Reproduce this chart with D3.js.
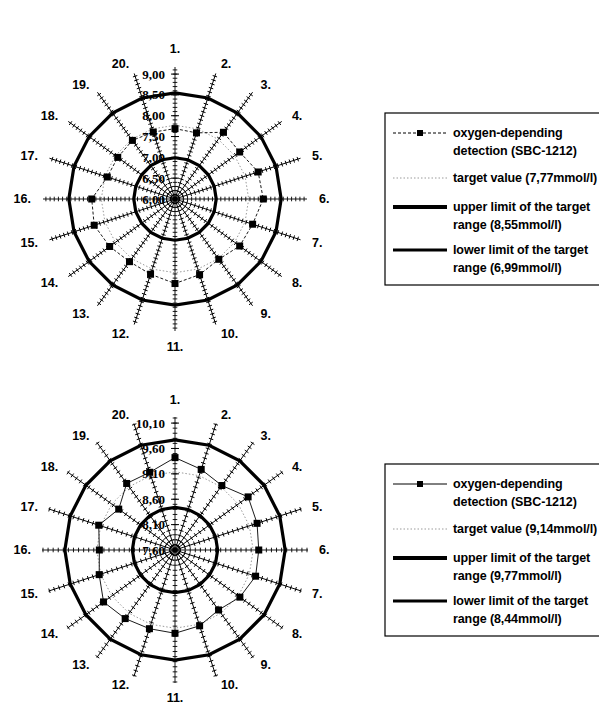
<!DOCTYPE html>
<html>
<head>
<meta charset="utf-8">
<script src="https://cdn.jsdelivr.net/npm/d3@7"></script>
<style>
  html, body { margin: 0; padding: 0; background: #fff; }
  svg { display: block; }
</style>
</head>
<body>
<svg id="chart" width="599" height="705"></svg>
<script>
// Measuring points around the sensor ring
const categories = ["1.","2.","3.","4.","5.","6.","7.","8.","9.","10.",
                    "11.","12.","13.","14.","15.","16.","17.","18.","19.","20."];

// Panel A: oxygen-depending detection (SBC-1212), mmol/l
const detectionA = [7.69, 7.67, 7.98, 7.92, 8.10, 8.12, 7.96, 7.92, 7.79, 7.91,
                    8.03, 7.90, 7.86, 7.94, 8.04, 8.00, 7.71, 7.70, 7.74, 7.69];
const targetA = 7.77;
const upperA = 8.55;
const lowerA = 6.99;
const tickLabelsA = ["6,00", "6,50", "7,00", "7,50", "8,00", "8,50", "9,00"];

// Panel B: oxygen-depending detection (SBC-1212), mmol/l
const detectionB = [9.42, 9.27, 9.17, 9.38, 9.30, 9.25, 9.27, 9.18, 9.06, 9.17,
                    9.24, 9.23, 9.27, 9.34, 9.17, 9.09, 9.18, 8.97, 9.22, 9.21];
const targetB = 9.14;
const upperB = 9.77;
const lowerB = 8.44;
const tickLabelsB = ["7,60", "8,10", "8,60", "9,10", "9,60", "10,10"];

const legendA = [
  ["oxygen-depending", "detection (SBC-1212)"],
  ["target value (7,77mmol/l)"],
  ["upper limit of the target", "range (8,55mmol/l)"],
  ["lower limit of the target", "range (6,99mmol/l)"]
];
const legendB = [
  ["oxygen-depending", "detection (SBC-1212)"],
  ["target value (9,14mmol/l)"],
  ["upper limit of the target", "range (9,77mmol/l)"],
  ["lower limit of the target", "range (8,44mmol/l)"]
];

const svg = d3.select("#chart");
const SANS = "Liberation Sans, Arial, Helvetica, sans-serif";
const SERIF = "Liberation Serif, Times New Roman, serif";

function num(s) { return +s.replace(",", "."); }

function drawRadar(cfg) {
  const g = svg.append("g").attr("transform", `translate(${cfg.cx},${cfg.cy})`);
  const r = d3.scaleLinear().domain(cfg.domain).range([0, cfg.rMax]);
  const angle = d3.scaleLinear().domain([0, categories.length]).range([0, 2 * Math.PI]);
  const pt = (i, v) => {
    const a = angle(i), rr = r(v);
    return [rr * Math.sin(a), -rr * Math.cos(a)];
  };
  const ring = v => categories.map((c, i) => pt(i, v));
  const closed = d3.line().curve(d3.curveLinearClosed);

  // radial axes with minor tick marks
  const minorTicks = d3.range(Math.round(cfg.domain[0] * 10), Math.floor(cfg.domain[1] * 10 + 1e-6) + 1)
    .map(d => d / 10);
  categories.forEach((c, i) => {
    const a = angle(i);
    const ax = g.append("g").attr("transform", `rotate(${a * 180 / Math.PI})`);
    ax.append("line")
      .attr("x1", 0).attr("y1", 0).attr("x2", 0).attr("y2", -cfg.rMax)
      .attr("stroke", "#000").attr("stroke-width", 0.9);
    ax.selectAll("line.tick").data(minorTicks).join("line")
      .attr("class", "tick")
      .attr("x1", -2.3).attr("x2", 2.3)
      .attr("y1", d => -r(d)).attr("y2", d => -r(d))
      .attr("stroke", "#000").attr("stroke-width", 0.9);
  });

  // major ticks on the value axis
  const majors = cfg.tickLabels.map(num);
  g.selectAll("line.major").data(majors).join("line")
    .attr("x1", -4).attr("x2", 4)
    .attr("y1", d => -r(d)).attr("y2", d => -r(d))
    .attr("stroke", "#000").attr("stroke-width", 1);

  // target value ring
  g.append("path").attr("d", closed(ring(cfg.target)))
    .attr("fill", "none").attr("stroke", "#9a9a9a").attr("stroke-width", 1)
    .attr("stroke-dasharray", "1.5,2");

  // limits of the target range
  g.append("path").attr("d", closed(ring(cfg.upper)))
    .attr("fill", "none").attr("stroke", "#000").attr("stroke-width", 3.2);
  g.append("path").attr("d", closed(ring(cfg.lower)))
    .attr("fill", "none").attr("stroke", "#000").attr("stroke-width", 3.2);

  // detection series
  const pts = cfg.values.map((v, i) => pt(i, v));
  g.append("path").attr("d", closed(pts))
    .attr("fill", "none").attr("stroke", "#000").attr("stroke-width", 0.9)
    .attr("stroke-dasharray", cfg.seriesDash);
  g.selectAll("rect.mk").data(pts).join("rect")
    .attr("x", d => d[0] - 3.5).attr("y", d => d[1] - 3.5)
    .attr("width", 7).attr("height", 7).attr("fill", "#000");

  // value axis labels
  g.selectAll("text.val").data(cfg.tickLabels).join("text")
    .attr("x", -10).attr("y", d => -r(num(d)))
    .attr("dy", "0.35em")
    .attr("text-anchor", "end")
    .attr("font-family", SERIF).attr("font-weight", "bold").attr("font-size", 13)
    .attr("fill", "#000")
    .text(d => d);

  // category labels, anchored outward from the end of each axis
  const labelR = 142;
  g.selectAll("text.cat").data(categories).join("text")
    .each(function (d, i) {
      const a = angle(i), s = Math.sin(a), c = Math.cos(a);
      let x = labelR * s, y = -labelR * c, anchor = "middle";
      if (s > 0.05) { anchor = "start"; x += 2; }
      else if (s < -0.05) { anchor = "end"; x -= 2; }
      else { y += c > 0 ? -8 : 6; }
      d3.select(this)
        .attr("x", x).attr("y", y).attr("dy", "0.35em")
        .attr("text-anchor", anchor);
    })
    .attr("font-family", SANS).attr("font-weight", "bold").attr("font-size", 12.5)
    .attr("fill", "#000")
    .text(d => d);
}

function drawLegend(x, y, rows, seriesDash) {
  const g = svg.append("g").attr("transform", `translate(${x},${y})`);
  g.append("rect").attr("x", 0).attr("y", 0).attr("width", 230).attr("height", 172)
    .attr("fill", "none").attr("stroke", "#000").attr("stroke-width", 1.2);
  const rowY = [20, 65, 94, 137];
  const lx1 = 8, lx2 = 62, tx = 68;
  const styles = [
    { stroke: "#000", w: 1, dash: seriesDash, marker: true },
    { stroke: "#9a9a9a", w: 1, dash: "1.5,2" },
    { stroke: "#000", w: 4, dash: null },
    { stroke: "#000", w: 3.2, dash: null }
  ];
  rows.forEach((lines, k) => {
    const s = styles[k];
    const yy = rowY[k];
    g.append("line").attr("x1", lx1).attr("x2", lx2).attr("y1", yy).attr("y2", yy)
      .attr("stroke", s.stroke).attr("stroke-width", s.w)
      .attr("stroke-dasharray", s.dash);
    if (s.marker) {
      g.append("rect").attr("x", (lx1 + lx2) / 2 - 3).attr("y", yy - 3)
        .attr("width", 6).attr("height", 6).attr("fill", "#000");
    }
    lines.forEach((t, j) => {
      g.append("text").attr("x", tx).attr("y", yy + j * 17.5).attr("dy", "0.35em")
        .attr("font-family", SANS).attr("font-weight", "bold").attr("font-size", 12.5)
        .attr("letter-spacing", -0.1)
        .attr("fill", "#000").text(t);
    });
  });
}

drawRadar({
  cx: 175, cy: 199, rMax: 132, domain: [6.0, 9.17],
  values: detectionA, target: targetA, upper: upperA, lower: lowerA,
  tickLabels: tickLabelsA, seriesDash: "3,2"
});
drawRadar({
  cx: 175, cy: 550, rMax: 133, domain: [7.6, 10.22],
  values: detectionB, target: targetB, upper: upperB, lower: lowerB,
  tickLabels: tickLabelsB, seriesDash: null
});

drawLegend(385, 113, legendA, "3,2");
drawLegend(385, 464, legendB, null);
</script>
</body>
</html>
